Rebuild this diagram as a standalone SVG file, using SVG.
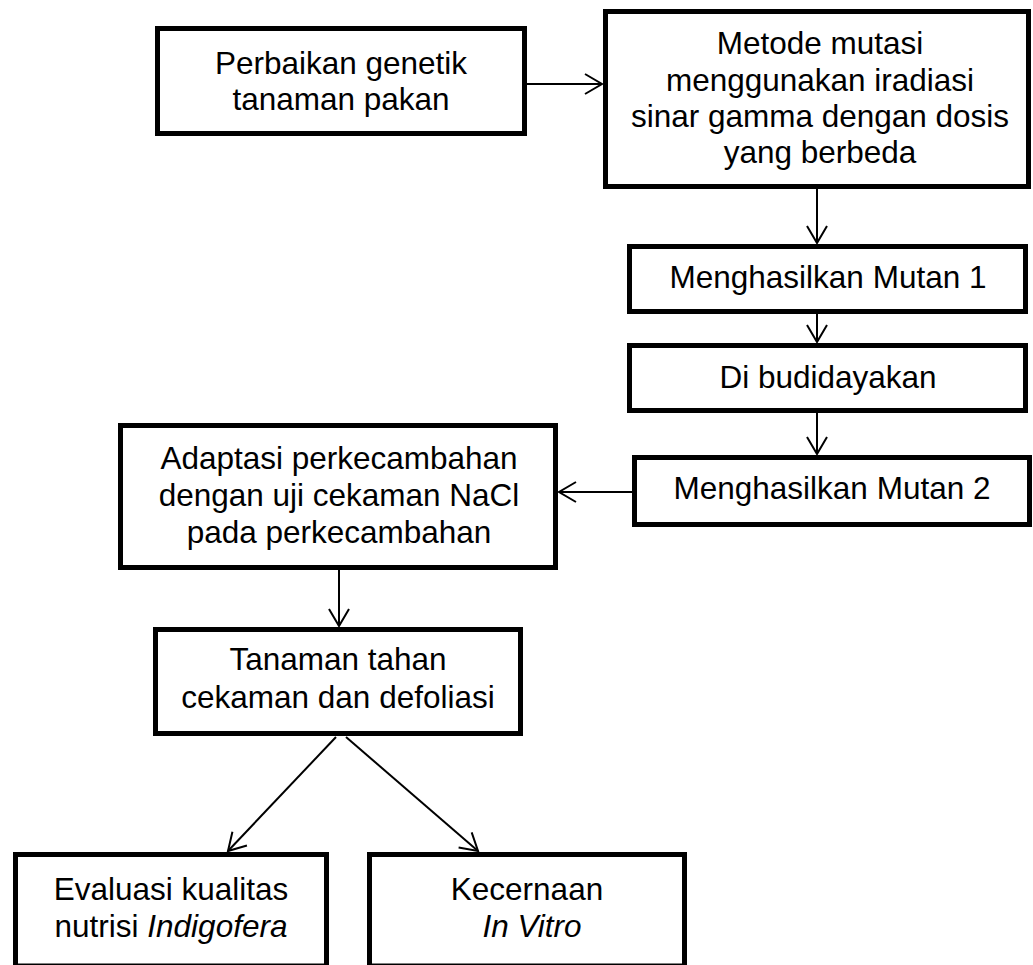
<svg xmlns="http://www.w3.org/2000/svg" width="1033" height="965" viewBox="0 0 1033 965">
<style>
.box{fill:#fff;stroke:#000;stroke-width:5;stroke-linejoin:miter}
.t{font-family:"Liberation Sans",Arial,sans-serif;font-size:31.5px;fill:#000;text-anchor:middle}
.i{font-style:italic}
.c{fill:none;stroke:#000;stroke-width:2}
</style>
<defs>
<marker id="ah" viewBox="-19 -12 21 24" refX="0" refY="0" markerWidth="21" markerHeight="24" markerUnits="userSpaceOnUse" orient="auto">
<path d="M-17,-10 L0,0 L-17,10" fill="none" stroke="#000" stroke-width="2"/>
</marker>
</defs>
<rect width="1033" height="965" fill="#fff"/>
<g id="connectors">
<line class="c" x1="527" y1="84" x2="602" y2="84" marker-end="url(#ah)"/>
<line class="c" x1="817" y1="189" x2="817" y2="243" marker-end="url(#ah)"/>
<line class="c" x1="817" y1="314" x2="817" y2="342" marker-end="url(#ah)"/>
<line class="c" x1="817" y1="413" x2="817" y2="454" marker-end="url(#ah)"/>
<line class="c" x1="632" y1="492" x2="559" y2="492" marker-end="url(#ah)"/>
<line class="c" x1="339" y1="570" x2="339" y2="626" marker-end="url(#ah)"/>
<line class="c" x1="336" y1="737" x2="228" y2="851" marker-end="url(#ah)"/>
<line class="c" x1="346" y1="737" x2="478" y2="851" marker-end="url(#ah)"/>
</g>
<g id="n1">
<rect class="box" x="157.5" y="28.5" width="367" height="105"/>
<text class="t" x="341" y="74">Perbaikan genetik</text>
<text class="t" x="341" y="110">tanaman pakan</text>
</g>
<g id="n2">
<rect class="box" x="605.5" y="11.5" width="423" height="175"/>
<text class="t" x="820" y="54">Metode mutasi</text>
<text class="t" x="820" y="90.5">menggunakan iradiasi</text>
<text class="t" x="820" y="127">sinar gamma dengan dosis</text>
<text class="t" x="820" y="163">yang berbeda</text>
</g>
<g id="n3">
<rect class="box" x="629.5" y="246.5" width="396" height="65"/>
<text class="t" x="828" y="288">Menghasilkan Mutan 1</text>
</g>
<g id="n4">
<rect class="box" x="629.5" y="345.5" width="396" height="65"/>
<text class="t" x="828" y="388">Di budidayakan</text>
</g>
<g id="n5">
<rect class="box" x="634.5" y="457.5" width="395" height="67"/>
<text class="t" x="832" y="499">Menghasilkan Mutan 2</text>
</g>
<g id="n6">
<rect class="box" x="120.5" y="425.5" width="435" height="142"/>
<text class="t" x="339" y="469">Adaptasi perkecambahan</text>
<text class="t" x="339" y="506">dengan uji cekaman NaCl</text>
<text class="t" x="339" y="543">pada perkecambahan</text>
</g>
<g id="n7">
<rect class="box" x="155.5" y="629.5" width="365" height="104"/>
<text class="t" x="338" y="670">Tanaman tahan</text>
<text class="t" x="338" y="708">cekaman dan defoliasi</text>
</g>
<g id="n8">
<rect class="box" x="15.5" y="854.5" width="311" height="111.5"/>
<text class="t" x="171" y="900">Evaluasi kualitas</text>
<text class="t" x="171" y="937">nutrisi <tspan class="i">Indigofera</tspan></text>
</g>
<g id="n9">
<rect class="box" x="369.5" y="854.5" width="315" height="111.5"/>
<text class="t" x="527" y="900">Kecernaan</text>
<text class="t i" x="532" y="937">In Vitro</text>
</g>
</svg>
